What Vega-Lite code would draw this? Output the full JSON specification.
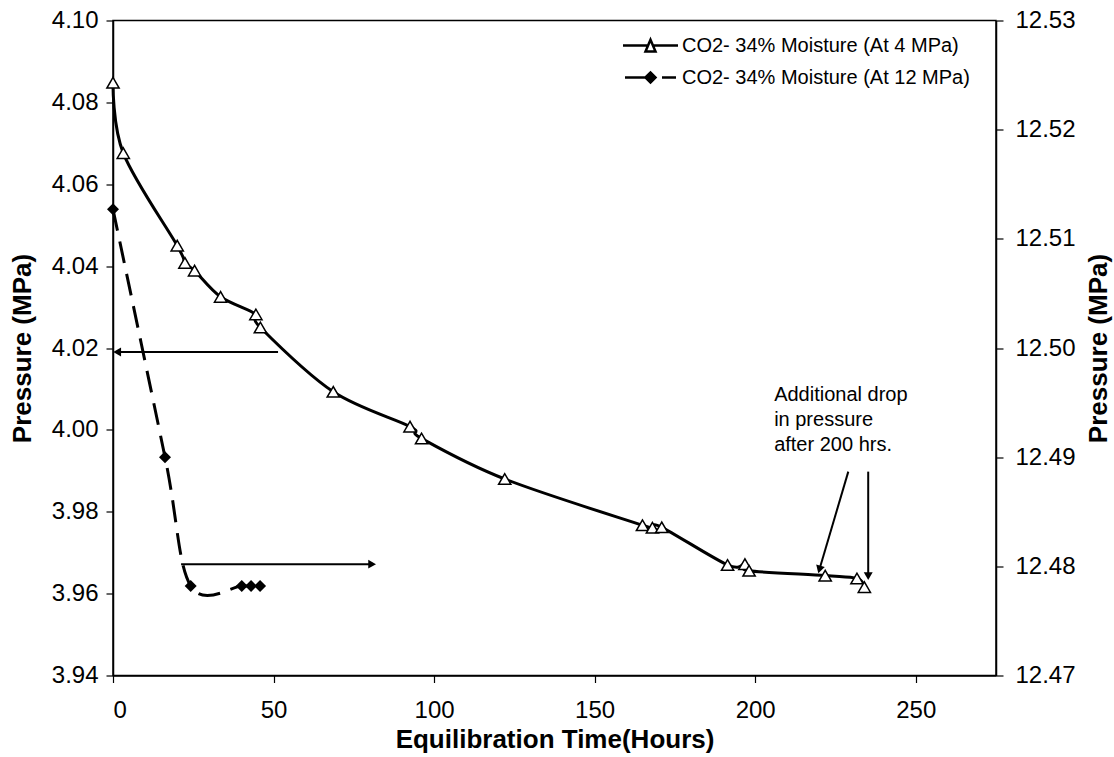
{
  "$schema": "https://vega.github.io/schema/vega-lite/v6.json",
  "width": 883,
  "height": 655,
  "autosize": "none",
  "padding": {"left": 113, "top": 20.5, "right": 118, "bottom": 81.5},
  "background": "white",
  "config": {
    "view": {"stroke": "black", "strokeWidth": 1.5},
    "font": "Liberation Sans",
    "axis": {
      "grid": false,
      "domainColor": "black",
      "domainWidth": 1.5,
      "tickColor": "black",
      "tickWidth": 1.2,
      "tickSize": 7,
      "labelColor": "black",
      "labelFont": "Liberation Sans",
      "labelFontSize": 24,
      "titleColor": "black",
      "titleFont": "Liberation Sans",
      "titleFontSize": 26,
      "titleFontWeight": "bold"
    },
    "legend": {
      "labelFont": "Liberation Sans",
      "labelFontSize": 20,
      "labelColor": "black",
      "labelLimit": 500
    }
  },
  "datasets": {
    "p4": [
      {"t": 0, "p": 4.0848},
      {"t": 3.2, "p": 4.0676},
      {"t": 20.0, "p": 4.045},
      {"t": 22.4, "p": 4.0408},
      {"t": 25.4, "p": 4.0389},
      {"t": 33.5, "p": 4.0325},
      {"t": 44.5, "p": 4.0282},
      {"t": 45.9, "p": 4.025},
      {"t": 68.6, "p": 4.0093},
      {"t": 92.5, "p": 4.0008},
      {"t": 96.1, "p": 3.9979},
      {"t": 122.0, "p": 3.988},
      {"t": 164.9, "p": 3.9767},
      {"t": 168.0, "p": 3.9761},
      {"t": 170.9, "p": 3.9762},
      {"t": 191.4, "p": 3.967},
      {"t": 196.8, "p": 3.9672},
      {"t": 198.1, "p": 3.9656},
      {"t": 221.8, "p": 3.9644},
      {"t": 231.7, "p": 3.9637},
      {"t": 234.0, "p": 3.9616}
    ],
    "p12": [
      {"t": 0, "p": 12.5127},
      {"t": 16.2, "p": 12.49},
      {"t": 24.2, "p": 12.4782},
      {"t": 40.1, "p": 12.4782},
      {"t": 43.0, "p": 12.4782},
      {"t": 45.8, "p": 12.4782}
    ],
    "arrows": [
      {"id": "left", "t": 51.4, "p": 4.019, "t2": 1.3, "p2": 4.019},
      {"id": "right", "t": 21.2, "p": 3.9672, "t2": 80.7, "p2": 3.9672},
      {"id": "diag", "t": 229.0, "p": 3.9898, "t2": 220.0, "p2": 3.9659},
      {"id": "vert", "t": 235.2, "p": 3.9898, "t2": 235.2, "p2": 3.9643}
    ],
    "notes": [
      {"t": 205.9, "p": 4.0085, "text": "Additional drop"},
      {"t": 205.9, "p": 4.0024, "text": "in pressure"},
      {"t": 205.9, "p": 3.9963, "text": "after 200 hrs."}
    ]
  },
  "encoding": {
    "x": {
      "field": "t",
      "type": "quantitative",
      "scale": {"domain": [0, 275], "nice": false, "zero": false},
      "axis": {"values": [0, 50, 100, 150, 200, 250], "labelPadding": 16, "titlePadding": 4},
      "title": "Equilibration Time(Hours)"
    }
  },
  "layer": [
    {
      "encoding": {
        "y": {
          "field": "p",
          "type": "quantitative",
          "scale": {"domain": [3.94, 4.1], "nice": false, "zero": false},
          "axis": {"orient": "left", "values": [3.94, 3.96, 3.98, 4.0, 4.02, 4.04, 4.06, 4.08, 4.1], "format": ".2f", "labelPadding": 8, "titlePadding": 16},
          "title": "Pressure (MPa)"
        }
      },
      "layer": [
        {
          "data": {"name": "p4"},
          "mark": {"type": "line", "interpolate": "cardinal", "color": "black", "strokeWidth": 3}
        },
        {
          "data": {"name": "p4"},
          "mark": {"type": "point", "shape": "triangle-up", "size": 150, "filled": true, "fill": "white", "stroke": "black", "strokeWidth": 1.5, "opacity": 1}
        },
        {
          "data": {"name": "arrows"},
          "mark": {"type": "rule", "color": "black", "strokeWidth": 2},
          "encoding": {"x2": {"field": "t2"}, "y2": {"field": "p2"}}
        },
        {
          "data": {"name": "arrows"},
          "transform": [{"filter": "datum.id === 'left'"}],
          "mark": {"type": "point", "shape": "triangle-left", "size": 80, "filled": true, "color": "black", "opacity": 1},
          "encoding": {"x": {"field": "t2", "type": "quantitative"}, "y": {"field": "p2", "type": "quantitative"}}
        },
        {
          "data": {"name": "arrows"},
          "transform": [{"filter": "datum.id === 'right'"}],
          "mark": {"type": "point", "shape": "triangle-right", "size": 80, "filled": true, "color": "black", "opacity": 1},
          "encoding": {"x": {"field": "t2", "type": "quantitative"}, "y": {"field": "p2", "type": "quantitative"}}
        },
        {
          "data": {"name": "arrows"},
          "transform": [{"filter": "datum.id === 'vert'"}],
          "mark": {"type": "point", "shape": "triangle-down", "size": 80, "filled": true, "color": "black", "opacity": 1},
          "encoding": {"x": {"field": "t2", "type": "quantitative"}, "y": {"field": "p2", "type": "quantitative"}}
        },
        {
          "data": {"name": "arrows"},
          "transform": [{"filter": "datum.id === 'diag'"}],
          "mark": {"type": "point", "shape": "triangle-up", "angle": 196.4, "size": 80, "filled": true, "color": "black", "opacity": 1},
          "encoding": {"x": {"field": "t2", "type": "quantitative"}, "y": {"field": "p2", "type": "quantitative"}}
        },
        {
          "data": {"name": "notes"},
          "mark": {"type": "text", "align": "left", "baseline": "middle", "font": "Liberation Sans", "fontSize": 20, "color": "black"},
          "encoding": {"text": {"field": "text"}}
        },
        {
          "data": {"values": []},
          "mark": {"type": "point", "filled": true, "strokeWidth": 2.5, "size": 400, "opacity": 1},
          "encoding": {
            "shape": {
              "field": "s",
              "type": "nominal",
              "scale": {
                "domain": ["CO2- 34% Moisture (At 4 MPa)", "CO2- 34% Moisture (At 12 MPa)"],
                "range": [
                  "M-2.75,0H-0.24M0.24,0H2.75M0,-0.57L0.5,0.6L-0.5,0.6Z",
                  "M-2.55,0H-0.5M-0.5,0L0,-0.5L0.5,0L0,0.5ZM1.15,0H2.55"
                ]
              },
              "legend": {"title": null, "orient": "none", "legendX": 526, "legendY": 13.5, "symbolSize": 400, "symbolStrokeWidth": 2.5, "labelOffset": 20, "rowPadding": 9, "padding": 0}
            },
            "fill": {
              "field": "s",
              "type": "nominal",
              "scale": {
                "domain": ["CO2- 34% Moisture (At 4 MPa)", "CO2- 34% Moisture (At 12 MPa)"],
                "range": ["white", "black"]
              },
              "legend": {"title": null, "orient": "none", "legendX": 526, "legendY": 13.5, "symbolSize": 400, "symbolStrokeWidth": 2.5, "labelOffset": 20, "rowPadding": 9, "padding": 0}
            },
            "stroke": {
              "field": "s",
              "type": "nominal",
              "scale": {
                "domain": ["CO2- 34% Moisture (At 4 MPa)", "CO2- 34% Moisture (At 12 MPa)"],
                "range": ["black", "black"]
              },
              "legend": {"title": null, "orient": "none", "legendX": 526, "legendY": 13.5, "symbolSize": 400, "symbolStrokeWidth": 2.5, "labelOffset": 20, "rowPadding": 9, "padding": 0}
            }
          }
        }
      ]
    },
    {
      "encoding": {
        "y": {
          "field": "p",
          "type": "quantitative",
          "scale": {"domain": [12.47, 12.53], "nice": false, "zero": false},
          "axis": {"orient": "right", "values": [12.47, 12.48, 12.49, 12.5, 12.51, 12.52, 12.53], "format": ".2f", "labelPadding": 12, "titlePadding": 10, "titleAngle": 270, "titleBaseline": "top"},
          "title": "Pressure (MPa)"
        }
      },
      "layer": [
        {
          "data": {"name": "p12"},
          "mark": {"type": "line", "interpolate": "cardinal", "color": "black", "strokeWidth": 3, "strokeDash": [22, 11]}
        },
        {
          "data": {"name": "p12"},
          "mark": {"type": "point", "shape": "diamond", "size": 144, "filled": true, "color": "black", "opacity": 1}
        }
      ]
    }
  ],
  "resolve": {"scale": {"y": "independent"}}
}
